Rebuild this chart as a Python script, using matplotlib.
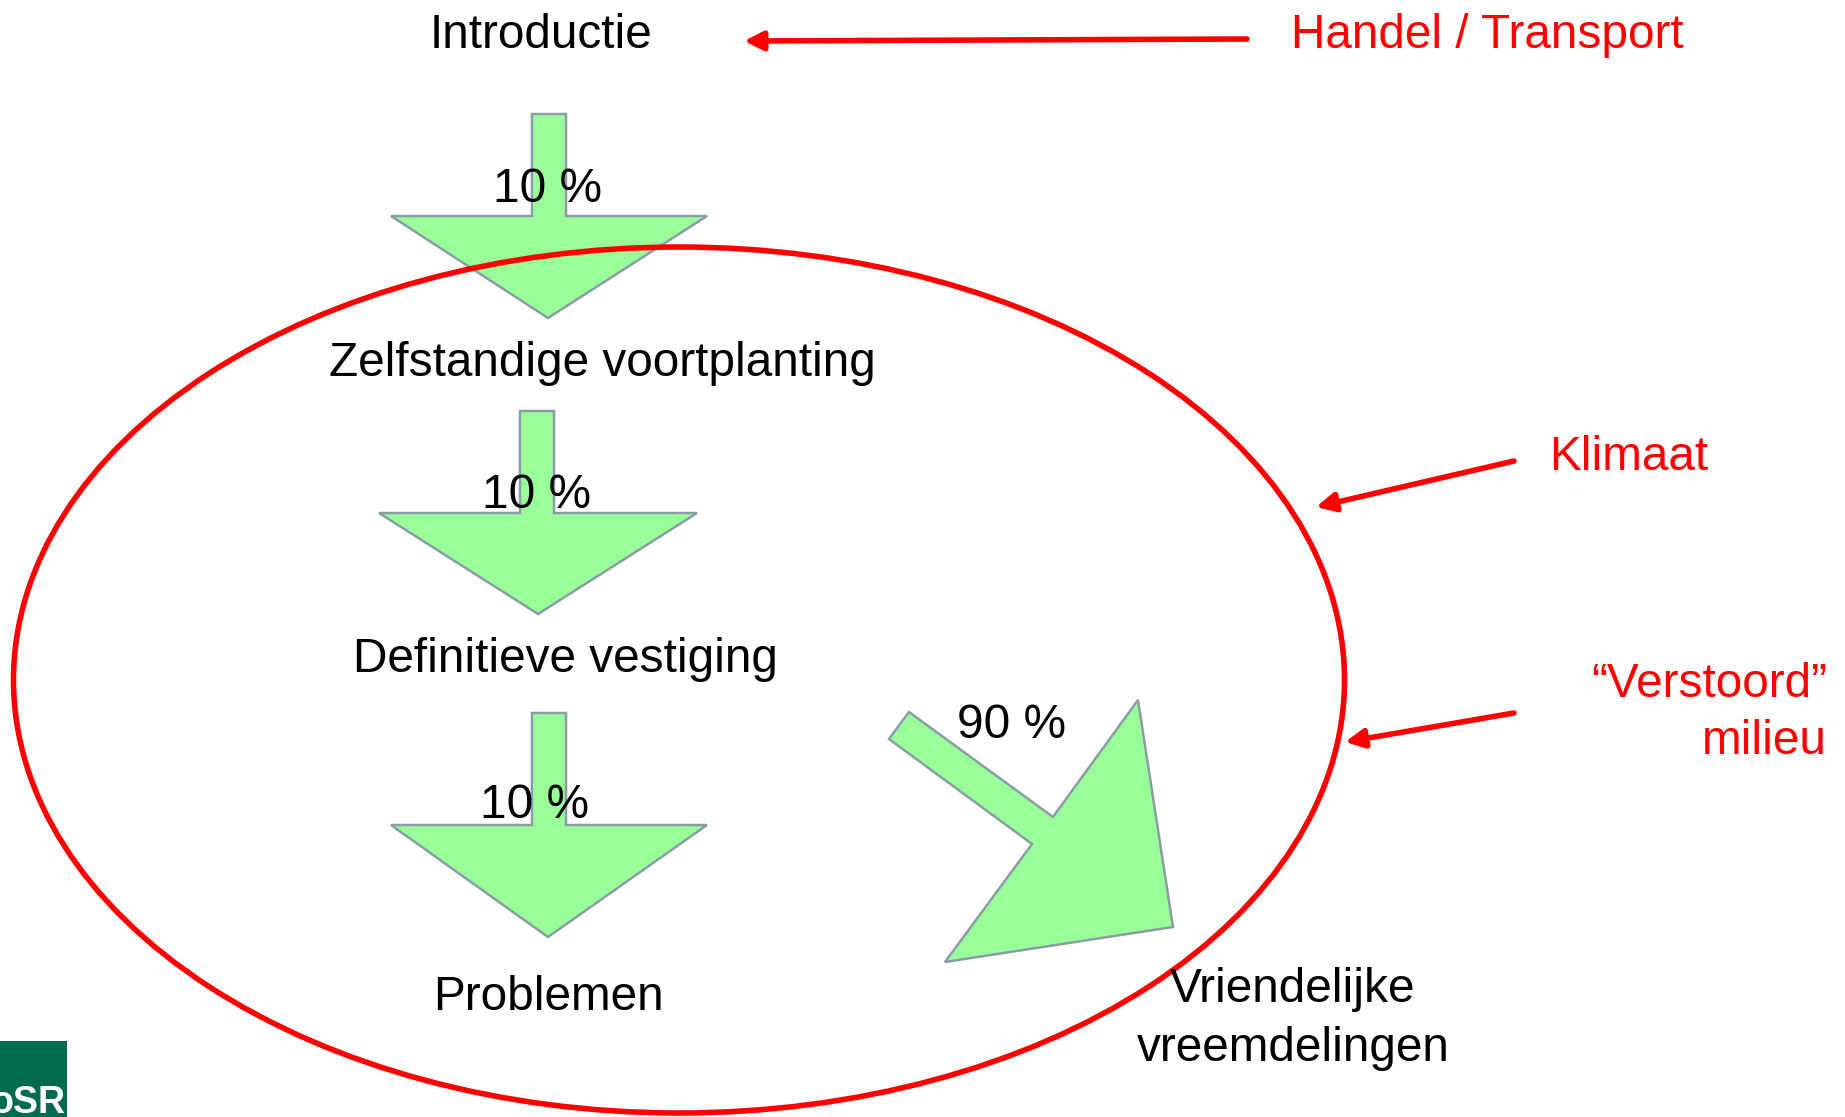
import matplotlib

matplotlib.use("Agg")
import matplotlib.pyplot as plt
from matplotlib.patches import Polygon, Ellipse, Rectangle

plt.rcParams["font.family"] = ["Liberation Sans", "DejaVu Sans"]

# --------------------------------------------------------------------------- #
# Content
# --------------------------------------------------------------------------- #
stages = ["Introductie", "Zelfstandige voortplanting", "Definitieve vestiging", "Problemen"]
step_pcts = ["10 %", "10 %", "10 %"]
side_pct = "90 %"
side_label = "Vriendelijke\nvreemdelingen"
drivers = ["Handel / Transport", "Klimaat", "\u201cVerstoord\u201d\nmilieu"]

# layout (pixel coords, origin top-left)
W, H = 1845, 1117
stage_xy = [(541, 36), (602, 363), (565, 659), (548, 997)]
pct_xy = [(548, 189), (537, 496), (535, 805)]
# down arrows: shaft left, shaft right, top, head y, head left, head right, tip x, tip y
down_arrows = [
    (532, 566, 114, 216, 391, 707, 548, 318),
    (520, 554, 411, 513, 379, 697, 538, 614),
    (532, 566, 713, 825, 391, 707, 548, 937),
]
diag_arrow = [(909, 712), (1053, 817), (1138, 700), (1173, 927),
              (945, 962), (1032, 844), (889, 739)]
driver_text = [(1291, 36, "left"), (1549, 458, "left"), (1827, 713, "right")]
driver_arrows = [((1247, 39), (744, 41)), ((1514, 461), (1316, 507)),
                 ((1514, 713), (1345, 742))]

GREEN = "#99FF99"
EDGE = "#8A9DA6"
RED = "#FF0000"
FS = 34.4

fig = plt.figure(figsize=(W / 100, H / 100), dpi=100)
ax = fig.add_axes([0, 0, 1, 1])
ax.set_xlim(0, W)
ax.set_ylim(H, 0)
ax.axis("off")

# ellipse
ax.add_patch(Ellipse((679, 680), 1331, 866, fill=False, ec=RED, lw=4.0, zorder=3))

# block arrows
for sl, sr, top, hy, hl, hr, tx, ty in down_arrows:
    pts = [(sl, top), (sr, top), (sr, hy), (hr, hy), (tx, ty), (hl, hy), (sl, hy)]
    ax.add_patch(Polygon(pts, closed=True, fc=GREEN, ec=EDGE, lw=1.8, zorder=2))
ax.add_patch(Polygon(diag_arrow, closed=True, fc=GREEN, ec=EDGE, lw=1.8, zorder=2))

# black labels
for (x, y), s in zip(stage_xy, stages):
    ax.text(x, y, s, fontsize=FS, ha="center", va="center", zorder=5)
for (x, y), s in zip(pct_xy, step_pcts):
    ax.text(x, y, s, fontsize=FS, ha="center", va="center", zorder=5)
ax.text(1012, 726, side_pct, fontsize=FS, ha="center", va="center", zorder=5)
ax.text(1293, 1019, side_label, fontsize=FS, ha="center", va="center",
        linespacing=1.4, zorder=5)

# red drivers
for (x, y, ha), s in zip(driver_text, drivers):
    ax.text(x, y, s, fontsize=FS, ha=ha, va="center", color=RED,
            linespacing=1.37, multialignment="right", zorder=5)
for start, end in driver_arrows:
    ax.annotate("", xy=end, xytext=start,
                arrowprops=dict(arrowstyle="-|>", color=RED, lw=4,
                                mutation_scale=28, shrinkA=0, shrinkB=0),
                zorder=4)

# logo corner (cut off at the page edge, as in the original slide)
ax.add_patch(Rectangle((0, 1041), 67, 80, fc="#006B4F", ec="none", zorder=6))
logo = ax.text(65, 1113, "oSR", fontsize=27, fontweight="bold", color="white",
               ha="right", va="baseline", zorder=7)
logo.set_clip_path(Rectangle((0, 1041), 67, 80, transform=ax.transData))

fig.savefig("out.png", dpi=100)
